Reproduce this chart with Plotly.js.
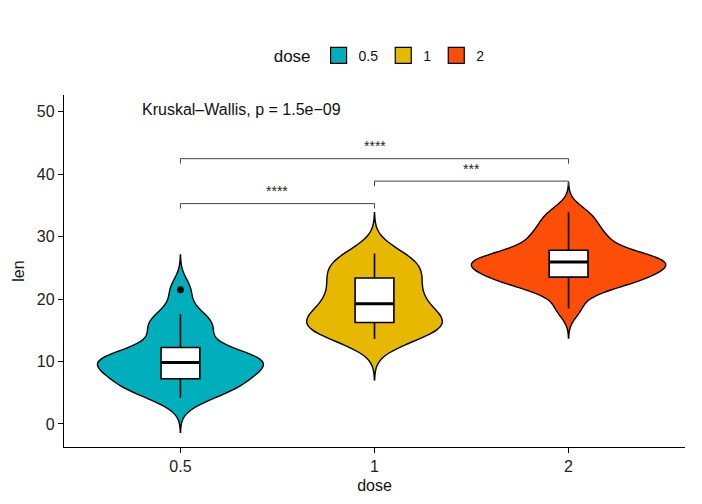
<!DOCTYPE html>
<html>
<head>
<meta charset="utf-8">
<script src="https://cdn.plot.ly/plotly-3.0.1.min.js"></script>
<style>html,body{margin:0;padding:0;background:#fff;}#chart{width:702px;height:504px;}</style>
</head>
<body>
<div id="chart"></div>
<script>
// ToothGrowth tooth length by dose
const doses = ["0.5", "1", "2"];
const len05 = [4.2, 11.5, 7.3, 5.8, 6.4, 10, 11.2, 11.2, 5.2, 7, 15.2, 21.5, 17.6, 9.7, 14.5, 10, 8.2, 9.4, 16.5, 9.7];
const len1  = [16.5, 16.5, 15.2, 17.3, 22.5, 17.3, 13.6, 14.5, 18.8, 15.5, 19.7, 23.3, 23.6, 26.4, 20, 25.2, 25.8, 21.2, 14.5, 27.3];
const len2  = [23.6, 18.5, 33.9, 25.5, 26.4, 32.5, 26.7, 21.5, 23.3, 29.5, 25.5, 26.4, 22.4, 24.5, 24.8, 30.9, 26.4, 27.3, 29.4, 23];
const colors = ["#00AFBB", "#E7B800", "#FC4E07"];
const comparisons = [ [0, 1, "****"], [1, 2, "***"], [0, 2, "****"] ];
const bracketY = [35.3, 38.9, 42.5];
const kwLabel = "Kruskal\u2013Wallis, p = 1.5e\u221209";

const groups = [len05, len1, len2];

function quant(s, p) { const h = (s.length - 1) * p, lo = Math.floor(h); const hi = Math.min(lo + 1, s.length - 1); return s[lo] + (h - lo) * (s[hi] - s[lo]); }
function nrd0(a) {
  const s = a.slice().sort((x, y) => x - y), n = a.length;
  const m = a.reduce((t, v) => t + v, 0) / n;
  const sd = Math.sqrt(a.reduce((t, v) => t + (v - m) * (v - m), 0) / (n - 1));
  const iqr = quant(s, 0.75) - quant(s, 0.25);
  return 0.9 * Math.min(sd, iqr / 1.34) * Math.pow(n, -0.2);
}
function kdeMax(a, bw, lo, hi) {
  let best = 0;
  for (let k = 0; k <= 600; k++) {
    const x = lo + (hi - lo) * k / 600;
    let s = 0;
    for (const v of a) { const u = (x - v) / bw; s += Math.exp(-0.5 * u * u); }
    best = Math.max(best, s / (a.length * bw * Math.sqrt(2 * Math.PI)));
  }
  return best;
}
function boxStats(a) {
  const s = a.slice().sort((x, y) => x - y);
  const q1 = quant(s, 0.25), med = quant(s, 0.5), q3 = quant(s, 0.75), iqr = q3 - q1;
  const inside = s.filter(v => v >= q1 - 1.5 * iqr && v <= q3 + 1.5 * iqr);
  const out = s.filter(v => v < q1 - 1.5 * iqr || v > q3 + 1.5 * iqr);
  return { q1, med, q3, lo: inside[0], hi: inside[inside.length - 1], out };
}

const traces = [];
const bws = groups.map(nrd0);
const spans = groups.map((g, i) => [Math.min(...g) - 3 * bws[i], Math.max(...g) + 3 * bws[i]]);
const peaks = groups.map((g, i) => kdeMax(g, bws[i], spans[i][0], spans[i][1]));
const peakMax = Math.max(...peaks);
groups.forEach((g, i) => {
  traces.push({
    type: "violin", name: doses[i], showlegend: false,
    x: g.map(() => doses[i]), y: g,
    bandwidth: bws[i], spanmode: "manual", span: spans[i],
    scalegroup: "g" + i, scalemode: "width", width: 1.0 * peaks[i] / peakMax,
    fillcolor: colors[i], opacity: 1, line: { color: "#000", width: 1.4 },
    points: false, box: { visible: false }, meanline: { visible: false },
    hoverinfo: "skip"
  });
});
const stats = groups.map(boxStats);
stats.forEach((st, i) => {
  traces.push({
    type: "box", name: doses[i], showlegend: false,
    x: [doses[i]], q1: [st.q1], median: [st.med], q3: [st.q3], lowerfence: [st.lo], upperfence: [st.hi],
    width: 0.2, fillcolor: "#ffffff", line: { color: "#000", width: 1.6 }, whiskerwidth: 0,
    boxpoints: false, hoverinfo: "skip"
  });
  if (st.out.length) {
    traces.push({ type: "scatter", mode: "markers", showlegend: false, x: st.out.map(() => doses[i]), y: st.out,
      marker: { color: "#000", size: 7 }, hoverinfo: "skip" });
  }
});
// legend keys
doses.forEach((d, i) => {
  traces.push({ type: "scatter", mode: "markers", name: d, x: [null], y: [null],
    marker: { symbol: "square", size: 22, color: colors[i], line: { color: "#000", width: 1.2 } } });
});

const shapes = [];
const annotations = [];
stats.forEach((st, i) => {
  shapes.push({ type: "line", xref: "x", yref: "y", x0: i - 0.1, x1: i + 0.1, y0: st.med, y1: st.med, line: { color: "#000", width: 3 } });
});
comparisons.forEach((c, k) => {
  const y = bracketY[k], d = 0.8;
  shapes.push({ type: "path", xref: "x", yref: "y",
    path: `M ${c[0]},${y - d} L ${c[0]},${y} L ${c[1]},${y} L ${c[1]},${y - d}`,
    line: { color: "#444", width: 1 } });
  annotations.push({ x: (c[0] + c[1]) / 2, y: y + 0.4, xref: "x", yref: "y", text: c[2], showarrow: false,
    yanchor: "bottom", font: { family: "Liberation Sans, Arial, sans-serif", size: 14, color: "#222" } });
});
annotations.push({ x: -0.206, y: 50.4, xref: "x", yref: "y", text: kwLabel, showarrow: false,
  xanchor: "left", yanchor: "middle", font: { family: "Liberation Sans, Arial, sans-serif", size: 16, color: "#111" } });

const axisFont = { family: "Liberation Sans, Arial, sans-serif", size: 16, color: "#222" };
const layout = {
  width: 702, height: 504,
  margin: { l: 64, r: 17, t: 95, b: 57 },
  paper_bgcolor: "#fff", plot_bgcolor: "#fff",
  font: { family: "Liberation Sans, Arial, sans-serif", color: "#111" },
  violinmode: "overlay", boxmode: "overlay",
  showlegend: true,
  legend: { orientation: "h", x: 0.51, xanchor: "center", y: 1.11, yanchor: "middle", itemsizing: "trace",
    title: { text: "dose", side: "left", font: { size: 17, color: "#111" } },
    font: { size: 14, color: "#111" } },
  xaxis: { type: "category", categoryorder: "array", categoryarray: doses, range: [-0.6, 2.6],
    showline: true, linecolor: "#000", linewidth: 1.2, ticks: "outside", ticklen: 5, tickcolor: "#000",
    tickfont: axisFont, showgrid: false, zeroline: false,
    title: { text: "dose", font: { size: 16, color: "#111" }, standoff: 5 } },
  yaxis: { range: [-3.7, 52.7], tickvals: [0, 10, 20, 30, 40, 50],
    showline: true, linecolor: "#000", linewidth: 1.2, ticks: "outside", ticklen: 5, tickcolor: "#000",
    tickfont: axisFont, showgrid: false, zeroline: false,
    title: { text: "len", font: { size: 16, color: "#111" }, standoff: 8 } },
  shapes: shapes, annotations: annotations
};
Plotly.newPlot("chart", traces, layout, { displayModeBar: false, staticPlot: true });
</script>
</body>
</html>
